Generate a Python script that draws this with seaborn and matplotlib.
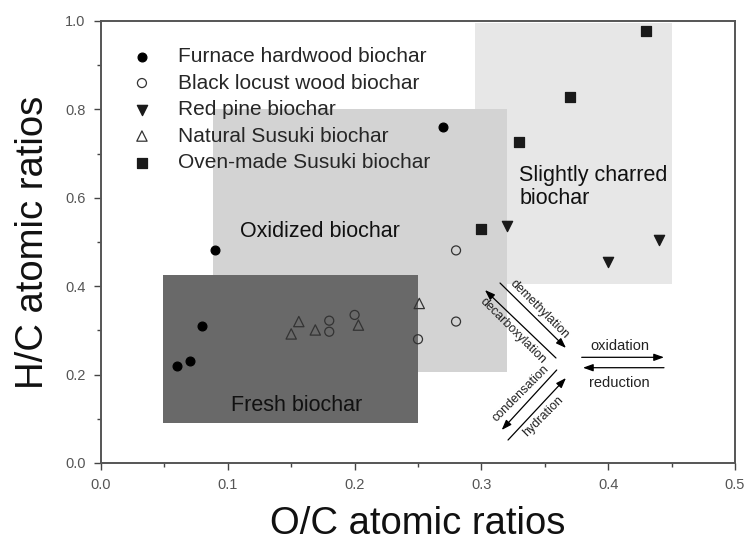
import matplotlib
matplotlib.use("Agg")
import matplotlib.pyplot as plt
import seaborn as sns
import pandas as pd
from matplotlib.patches import Rectangle

sns.set_theme(style="white")
plt.rcParams['font.family'] = ['Liberation Sans', 'DejaVu Sans']

# ---- data ----
furnace_x = [0.060, 0.070, 0.080, 0.090, 0.270]
furnace_y = [0.220, 0.231, 0.310, 0.481, 0.760]
locust_x = [0.180, 0.180, 0.200, 0.250, 0.280, 0.280]
locust_y = [0.322, 0.297, 0.335, 0.280, 0.320, 0.481]
pine_x = [0.320, 0.400, 0.440]
pine_y = [0.536, 0.455, 0.505]
natural_x = [0.150, 0.156, 0.169, 0.203, 0.251]
natural_y = [0.292, 0.320, 0.301, 0.312, 0.361]
oven_x = [0.300, 0.330, 0.370, 0.430]
oven_y = [0.529, 0.727, 0.829, 0.978]

series_names = ["Furnace hardwood biochar", "Black locust wood biochar",
                "Red pine biochar", "Natural Susuki biochar",
                "Oven-made Susuki biochar"]

xticks = [0.0, 0.1, 0.2, 0.3, 0.4, 0.5]
yticks = [0.0, 0.2, 0.4, 0.6, 0.8, 1.0]

fig = plt.figure(figsize=(7.44, 5.52), dpi=100)
ax = fig.add_axes([101/744, 1-463/552, (735-101)/744, (463-21)/552])

# ---- regions ----
ax.add_patch(Rectangle((0.295, 0.405), 0.155, 0.59, facecolor="#e7e7e7", edgecolor="none", zorder=0))
ax.add_patch(Rectangle((0.088, 0.207), 0.232, 0.593, facecolor="#d3d3d3", edgecolor="none", zorder=0.5))
ax.add_patch(Rectangle((0.049, 0.091), 0.201, 0.334, facecolor="#696969", edgecolor="none", zorder=1))

ax.text(0.173, 0.524, "Oxidized biochar", fontsize=15.5, ha="center", va="center", color="#111111", zorder=3)
ax.text(0.330, 0.625, "Slightly charred\nbiochar", fontsize=15.5, ha="left", va="center",
        color="#111111", linespacing=1.1, zorder=3)
ax.text(0.154, 0.131, "Fresh biochar", fontsize=15.5, ha="center", va="center", color="#111111", zorder=3)

# ---- scatter series ----
kw = dict(ax=ax, zorder=4, linewidth=0.9, legend=False)
sns.scatterplot(x=furnace_x, y=furnace_y, marker="o", s=40, color="black", edgecolor="black",
                label=series_names[0], **kw)
sns.scatterplot(x=locust_x, y=locust_y, marker="o", s=42, facecolor="none", edgecolor="#333333",
                label=series_names[1], **kw)
sns.scatterplot(x=pine_x, y=pine_y, marker="v", s=55, color="#1a1a1a", edgecolor="#1a1a1a",
                label=series_names[2], **kw)
sns.scatterplot(x=natural_x, y=natural_y, marker="^", s=55, facecolor="none", edgecolor="#333333",
                label=series_names[3], **kw)
sns.scatterplot(x=oven_x, y=oven_y, marker="s", s=55, color="#1a1a1a", edgecolor="#1a1a1a",
                label=series_names[4], **kw)

leg = ax.legend(loc="upper left", bbox_to_anchor=(0.035, 0.96), frameon=False, fontsize=15,
                labelspacing=0.36, handletextpad=1.25, borderaxespad=0, handlelength=1.0)
leg.set_zorder(5)

# ---- process arrows ----
akw = dict(arrowstyle="-|>,head_length=0.5,head_width=0.18", color="black", lw=0.9,
           shrinkA=0, shrinkB=0)
ax.annotate("", xy=(0.3667, 0.2602), xytext=(0.3147, 0.4072), arrowprops=akw, zorder=3)
ax.annotate("", xy=(0.3028, 0.3914), xytext=(0.3588, 0.2376), arrowprops=akw, zorder=3)
ax.annotate("", xy=(0.3160, 0.0747), xytext=(0.3594, 0.2104), arrowprops=akw, zorder=3)
ax.annotate("", xy=(0.3667, 0.1923), xytext=(0.3210, 0.0520), arrowprops=akw, zorder=3)
ax.annotate("", xy=(0.4440, 0.2391), xytext=(0.3791, 0.2391), arrowprops=akw, zorder=3)
ax.annotate("", xy=(0.3801, 0.2156), xytext=(0.4440, 0.2156), arrowprops=akw, zorder=3)

tkw = dict(fontsize=9, ha="center", va="center", rotation_mode="anchor", color="#222222", zorder=3)
ax.text(0.3454, 0.348, "demethylation", rotation=-45, **tkw)
ax.text(0.3250, 0.299, "decarboxylation", rotation=-45, **tkw)
ax.text(0.3310, 0.158, "condensation", rotation=45, **tkw)
ax.text(0.3490, 0.106, "hydration", rotation=45, **tkw)
ax.text(0.409, 0.265, "oxidation", fontsize=10.5, ha="center", va="center", color="#222222")
ax.text(0.409, 0.181, "reduction", fontsize=10.5, ha="center", va="center", color="#222222")

# ---- axes ----
ax.set_xlim(0, 0.5)
ax.set_ylim(0, 1.0)
ax.set_xticks(xticks)
ax.set_yticks(yticks)
ax.set_xticklabels([f"{v:.1f}" for v in xticks])
ax.set_yticklabels([f"{v:.1f}" for v in yticks])
ax.set_xticks([0.05, 0.15, 0.25, 0.35, 0.45], minor=True)
ax.set_yticks([0.1, 0.3, 0.5, 0.7, 0.9], minor=True)
ax.tick_params(axis="both", which="major", direction="out", length=5, width=1, color="#444444",
               labelsize=10.5, labelcolor="#555555", bottom=True, left=True, pad=6)
ax.tick_params(axis="both", which="minor", direction="out", length=3, width=1, color="#444444",
               bottom=True, left=True)
for sp in ax.spines.values():
    sp.set_color("#555555")
    sp.set_linewidth(1.4)
    sp.set_visible(True)

ax.set_xlabel("O/C atomic ratios", fontsize=27.5, color="#111111", labelpad=10)
ax.set_ylabel("H/C atomic ratios", fontsize=27.5, color="#111111", labelpad=10)

fig.savefig("out.png", dpi=100)
